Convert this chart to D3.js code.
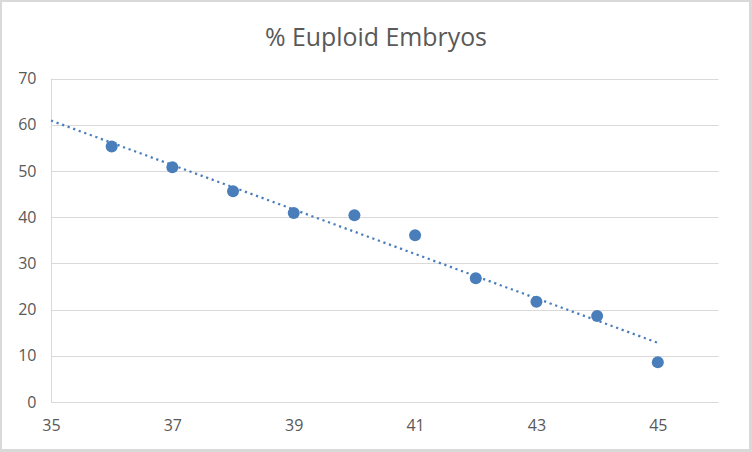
<!DOCTYPE html>
<html><head><meta charset="utf-8">
<script src="https://cdn.jsdelivr.net/npm/d3@7"></script>
<style>html,body{margin:0;padding:0;background:#fff;}svg{display:block;}</style>
</head><body>
<svg id="chart" width="752" height="452"></svg>
<script>
const title = "% Euploid Embryos";
const ages = [36, 37, 38, 39, 40, 41, 42, 43, 44, 45];
const euploidPct = [55.3, 50.8, 45.6, 40.9, 40.4, 36.1, 26.8, 21.7, 18.6, 8.6];
const trendX = [35, 45];
const trendY = [60.9, 12.8];
const xTicks = [35, 37, 39, 41, 43, 45];
const yTicks = [0, 10, 20, 30, 40, 50, 60, 70];

const W = 752, H = 452;
const svg = d3.select("#chart");
const font = "'Open Sans', 'Noto Sans', sans-serif";
const blue = "#4a7ebb", gray = "#d9d9d9", textCol = "#595959";

svg.append("rect").attr("x", 0).attr("y", 0).attr("width", W).attr("height", H).attr("fill", gray);
svg.append("rect").attr("x", 2).attr("y", 2).attr("width", 747).attr("height", 447).attr("fill", "#fff");

const x = d3.scaleLinear().domain([35, 46]).range([51, 718.5]);
const y = d3.scaleLinear().domain([0, 70]).range([402, 78.5]);

// gridlines
svg.append("g").selectAll("line").data(yTicks.filter(d => d > 0)).join("line")
  .attr("x1", x(35)).attr("x2", x(46))
  .attr("y1", d => Math.round(y(d)) + 0.5).attr("y2", d => Math.round(y(d)) + 0.5)
  .attr("stroke", gray).attr("stroke-width", 1);

// y axis
const yAxis = svg.append("g").attr("transform", `translate(${Math.round(x(35)) + 0.5},0)`)
  .call(d3.axisLeft(y).tickValues(yTicks).tickSize(0).tickPadding(15));
yAxis.select(".domain").attr("stroke", gray).attr("d", `M0,${y(70)}V${y(0)}`);
yAxis.selectAll("text").attr("font-family", font).attr("font-size", 16).attr("fill", textCol);

// x axis
const xAxis = svg.append("g").attr("transform", `translate(0,${Math.round(y(0)) + 0.5})`)
  .call(d3.axisBottom(x).tickValues(xTicks).tickSize(0).tickPadding(17));
xAxis.select(".domain").attr("stroke", gray).attr("d", `M${x(35)},0H${x(46)}`);
xAxis.selectAll("text").attr("font-family", font).attr("font-size", 16).attr("fill", textCol);

// trend line
const line = d3.line().x(d => x(d[0])).y(d => y(d[1]));
svg.append("path").datum(trendX.map((v, i) => [v, trendY[i]]))
  .attr("d", line).attr("fill", "none").attr("stroke", blue)
  .attr("stroke-width", 2.25).attr("stroke-dasharray", "2.2,3.7");

// points
svg.append("g").selectAll("circle").data(ages.map((a, i) => [a, euploidPct[i]])).join("circle")
  .attr("cx", d => x(d[0])).attr("cy", d => y(d[1])).attr("r", 6).attr("fill", blue);

// title
const t = svg.append("text").attr("x", 376).attr("y", 46).attr("text-anchor", "middle")
  .attr("font-family", font).attr("font-size", 24).attr("fill", textCol).text(title);
const len = t.node().getComputedTextLength();
t.attr("font-size", 24 * 222 / len);
</script>
</body></html>
